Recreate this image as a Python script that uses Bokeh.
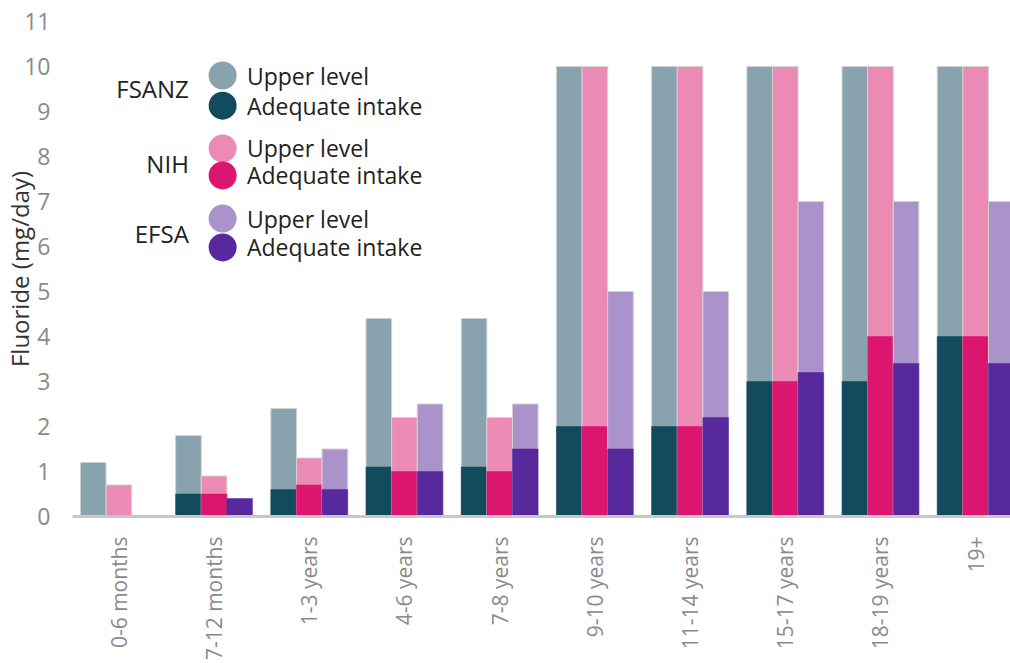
import numpy as np
from bokeh.plotting import figure
from bokeh.models import Range1d, FixedTicker
from bokeh.core.properties import value
from bokeh.embed import file_html
from bokeh.resources import INLINE

# ---- data ----
categories = ["0-6 months", "7-12 months", "1-3 years", "4-6 years", "7-8 years",
              "9-10 years", "11-14 years", "15-17 years", "18-19 years", "19+"]
fsanz_ul = [1.2, 1.8, 2.4, 4.4, 4.4, 10, 10, 10, 10, 10]
fsanz_ai = [0, 0.5, 0.6, 1.1, 1.1, 2, 2, 3, 3, 4]
nih_ul = [0.7, 0.9, 1.3, 2.2, 2.2, 10, 10, 10, 10, 10]
nih_ai = [0, 0.5, 0.7, 1.0, 1.0, 2, 2, 3, 4, 4]
efsa_ul = [0, 0, 1.5, 2.5, 2.5, 5, 5, 7, 7, 7]
efsa_ai = [0, 0.4, 0.6, 1.0, 1.5, 1.5, 2.2, 3.2, 3.4, 3.4]
y_ticks = list(range(0, 12))

series = [
    ("FSANZ", fsanz_ul, fsanz_ai, "#88a3ad", "#124b5e"),
    ("NIH", nih_ul, nih_ai, "#eb8ab4", "#dc156e"),
    ("EFSA", efsa_ul, efsa_ai, "#aa92ca", "#57299c"),
]

FONT = value("Open Sans")
BW = 0.269

p = figure(width=1010, height=663, output_backend="svg", toolbar_location=None,
           x_range=Range1d(-0.487, 9.366), y_range=Range1d(0, 11),
           min_border_left=72, min_border_top=21, min_border_right=0,
           min_border_bottom=0)
p.outline_line_color = None
p.grid.visible = False
p.background_fill_color = "white"
p.border_fill_color = "white"

x = np.arange(len(categories))
for i, (name, ul, ai, c_ul, c_ai) in enumerate(series):
    off = (i - 1) * BW
    ul_a = np.array(ul, dtype=float)
    ai_a = np.array(ai, dtype=float)
    m = ul_a > 0
    p.vbar(x=x[m] + off, top=ul_a[m], bottom=0, width=BW,
           fill_color=c_ul, line_color="#d2d2d2", line_width=1)
    m2 = ai_a > 0
    p.vbar(x=x[m2] + off, top=ai_a[m2], bottom=0, width=BW,
           fill_color=c_ai, line_color=c_ai, line_width=0.5)

# ---- custom legend ----
leg_circle_x = 1.09
leg_text_x = 1.345
leg_group_x = 0.735
leg_rows = [(9.80, 9.13, 9.51), (8.18, 7.58, 7.84), (6.62, 5.98, 6.29)]
for (name, ul, ai, c_ul, c_ai), (y_ul, y_ai, y_g) in zip(series, leg_rows):
    p.scatter(x=[leg_circle_x, leg_circle_x], y=[y_ul, y_ai], size=28,
              fill_color=[c_ul, c_ai], line_color=None)
    p.text(x=[leg_text_x, leg_text_x], y=[y_ul, y_ai],
           text=["Upper level", "Adequate intake"], text_font=FONT,
           text_font_size="23px", text_color="#222222",
           text_baseline="middle", text_align="left")
    p.text(x=[leg_group_x], y=[y_g], text=[name], text_font=FONT,
           text_font_size="24px", text_color="#222222",
           text_baseline="middle", text_align="right")

# ---- axes ----
xa = p.xaxis[0]
xa.ticker = FixedTicker(ticks=list(x))
xa.major_label_overrides = {int(i): c for i, c in zip(x, categories)}
xa.major_label_orientation = np.pi / 2
xa.major_label_text_font = "Open Sans"
xa.major_label_text_font_size = "21px"
xa.major_label_text_color = "#8a8a8a"
xa.major_label_standoff = 14
xa.major_tick_line_color = None
xa.minor_tick_line_color = None
xa.axis_line_color = "#c8c8c8"
xa.axis_line_width = 3

ya = p.yaxis[0]
ya.ticker = FixedTicker(ticks=y_ticks)
ya.axis_label = "Fluoride (mg/day)"
ya.axis_label_text_font = "Open Sans"
ya.axis_label_text_font_size = "24px"
ya.axis_label_text_font_style = "normal"
ya.axis_label_text_color = "#333333"
ya.axis_label_standoff = -15
ya.major_label_text_font = "Open Sans"
ya.major_label_text_font_size = "23px"
ya.major_label_text_color = "#8a8a8a"
ya.major_label_standoff = 16
ya.major_tick_line_color = None
ya.minor_tick_line_color = None
ya.axis_line_color = None

open("out.html", "w").write(file_html(p, INLINE))
